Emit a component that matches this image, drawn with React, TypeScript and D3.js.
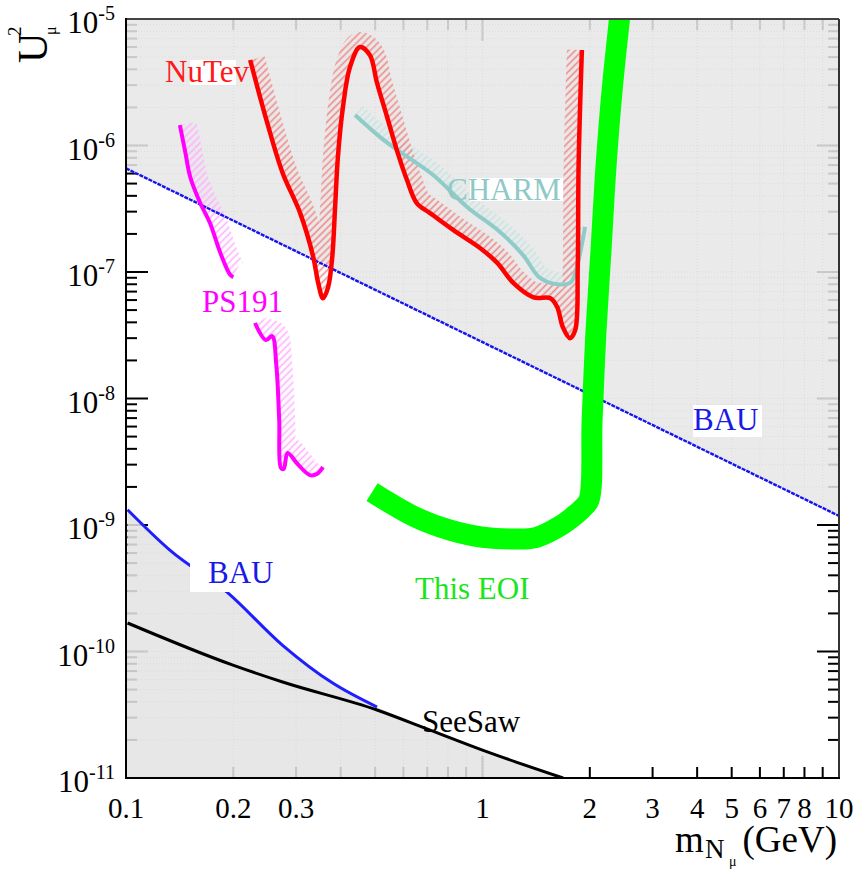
import React, { useEffect } from "react";
import * as d3 from "d3";

// Heavy-neutrino mixing plane: |U_mu|^2 versus m_N (GeV)
const W = 858;
const H = 871;

const xDomain = [0.1, 10];
const yDomain = [1e-11, 1e-5];

const xTickLabels = [0.1, 0.2, 0.3, 1, 2, 3, 4, 5, 6, 7, 8, 10];
const yTickExponents = [-5, -6, -7, -8, -9, -10, -11];

// Baryon asymmetry bounds
const bauUpper: [number, number][] = [
  [0.1, 6.6e-7],
  [10, 1.18e-9],
];
const bauLower: [number, number][] = [
  [0.101, 1.32e-9],
  [0.133, 6.3e-10],
  [0.192, 2.95e-10],
  [0.275, 1.12e-10],
  [0.381, 5.6e-11],
  [0.506, 3.64e-11],
];

// See-saw lower bound
const seesaw: [number, number][] = [
  [0.101, 1.68e-10],
  [0.1995, 7.8e-11],
  [0.275, 5.74e-11],
  [0.506, 3.45e-11],
  [0.713, 2.39e-11],
  [1.0, 1.66e-11],
  [1.683, 1e-11],
];

// NuTeV exclusion contour
const nutev: [number, number][] = [
  [0.223, 4.74e-6],
  [0.249, 1.51e-6],
  [0.275, 6.07e-7],
  [0.308, 2.92e-7],
  [0.335, 1.32e-7],
  [0.346, 8.2e-8],
  [0.357, 6.2e-8],
  [0.369, 7.6e-8],
  [0.379, 1.32e-7],
  [0.386, 3.27e-7],
  [0.393, 8.1e-7],
  [0.406, 2.01e-6],
  [0.425, 4.18e-6],
  [0.453, 6.0e-6],
  [0.483, 5.19e-6],
  [0.506, 3.12e-6],
  [0.54, 1.68e-6],
  [0.575, 9.2e-7],
  [0.614, 5.33e-7],
  [0.654, 3.51e-7],
  [0.713, 2.92e-7],
  [0.827, 2.15e-7],
  [0.984, 1.55e-7],
  [1.1, 1.18e-7],
  [1.22, 8.2e-8],
  [1.39, 6.3e-8],
  [1.55, 6.2e-8],
  [1.62, 5.28e-8],
  [1.68, 3.67e-8],
  [1.76, 3.0e-8],
  [1.82, 3.47e-8],
  [1.85, 1.1e-7],
  [1.86, 6.8e-7],
  [1.9, 5.69e-6],
];

// CHARM exclusion contour
const charm: [number, number][] = [
  [0.439, 1.74e-6],
  [0.515, 1.17e-6],
  [0.587, 8.9e-7],
  [0.727, 5.85e-7],
  [0.905, 3.27e-7],
  [1.12, 2.07e-7],
  [1.3, 1.36e-7],
  [1.45, 8.97e-8],
  [1.62, 8.0e-8],
  [1.77, 8.3e-8],
  [1.84, 1.1e-7],
  [1.94, 2.27e-7],
];

// PS191 exclusion, two pieces
const ps191Upper: [number, number][] = [
  [0.1416, 1.45e-6],
  [0.1466, 8.9e-7],
  [0.1514, 5.64e-7],
  [0.1615, 3.51e-7],
  [0.172, 2.44e-7],
  [0.184, 1.41e-7],
  [0.196, 9.5e-8],
  [0.2, 9.1e-8],
];
const ps191Lower: [number, number][] = [
  [0.23, 3.95e-8],
  [0.247, 2.9e-8],
  [0.257, 3.12e-8],
  [0.264, 1.84e-8],
  [0.269, 6.76e-9],
  [0.272, 2.83e-9],
  [0.277, 2.77e-9],
  [0.284, 3.71e-9],
  [0.303, 3.03e-9],
  [0.328, 2.48e-9],
  [0.343, 2.53e-9],
  [0.357, 2.87e-9],
];

// Projected sensitivity
const eoi: [number, number][] = [
  [0.49, 1.82e-9],
  [0.654, 1.14e-9],
  [0.811, 9.1e-10],
  [1.0, 8.0e-10],
  [1.25, 7.75e-10],
  [1.42, 8.0e-10],
  [1.65, 9.8e-10],
  [1.82, 1.2e-9],
  [1.91, 1.36e-9],
  [1.99, 1.58e-9],
  [2.03, 6.8e-9],
  [2.08, 3.3e-8],
  [2.15, 1.49e-7],
  [2.22, 6.8e-7],
  [2.31, 2.75e-6],
  [2.43, 1.08e-5],
];

const SERIF = "'Liberation Serif', 'Times New Roman', 'DejaVu Serif', serif";

export default function App() {
  useEffect(() => {
    document.body.style.margin = "0";
  }, []);

  const x = d3.scaleLog().domain(xDomain).range([126, 839]);
  const y = d3.scaleLog().domain(yDomain).range([778, 19]);
  const left = x.range()[0];
  const right = x.range()[1];
  const top = y.range()[1];
  const bottom = y.range()[0];

  const smooth = d3
    .line<[number, number]>()
    .x((d) => x(d[0]))
    .y((d) => y(d[1]))
    .curve(d3.curveCatmullRom.alpha(0.5));
  const mono = d3
    .line<[number, number]>()
    .x((d) => x(d[0]))
    .y((d) => y(d[1]))
    .curve(d3.curveMonotoneX);

  // region "above" a contour, closed through the top of the frame
  const aboveRegion = (pts: [number, number][], pad = 0) => {
    const a = pts[0];
    const b = pts[pts.length - 1];
    const bx = x(b[0]) + pad;
    return smooth(pts) + `L${bx},${y(b[1])}L${bx},-300L${x(a[0])},-300Z`;
  };

  const greyUpper = mono(bauUpper) + `L${right},${top}L${left},${top}Z`;
  const lowerEdge: [number, number][] = [...bauLower, ...seesaw.filter((d) => d[0] > 0.506)];
  const greyLower = mono(lowerEdge) + `L${left},${bottom}Z`;

  const xt = x.ticks();
  const yt = y.ticks();
  const isMajor = (v: number) => Math.abs(Math.log10(v) - Math.round(Math.log10(v))) < 1e-6;

  return (
    <svg width={W} height={H} style={{ display: "block", background: "#fff" }} fontFamily={SERIF}>
      <defs>
        <clipPath id="plotArea">
          <rect x={left} y={top} width={right - left} height={bottom - top} />
        </clipPath>
        <clipPath id="greyArea">
          <path d={greyUpper} />
          <path d={greyLower} />
        </clipPath>
        <clipPath id="clipNutev">
          <path d={aboveRegion(nutev)} />
        </clipPath>
        <clipPath id="clipCharm">
          <path d={aboveRegion(charm)} />
        </clipPath>
        <clipPath id="clipPsA">
          <path d={aboveRegion(ps191Upper, 40)} />
        </clipPath>
        <clipPath id="clipPsB">
          <path d={aboveRegion(ps191Lower, 40)} />
        </clipPath>
        <pattern id="hatchRed" width={5} height={5} patternUnits="userSpaceOnUse" patternTransform="rotate(45)">
          <line x1={2.5} y1={0} x2={2.5} y2={5} stroke="#ee8a8a" strokeWidth={1.6} />
        </pattern>
        <pattern id="hatchPink" width={5} height={5} patternUnits="userSpaceOnUse" patternTransform="rotate(45)">
          <line x1={2.5} y1={0} x2={2.5} y2={5} stroke="#ffb0ff" strokeWidth={1.6} />
        </pattern>
        <pattern id="hatchTeal" width={5} height={5} patternUnits="userSpaceOnUse" patternTransform="rotate(45)">
          <line x1={2.5} y1={0} x2={2.5} y2={5} stroke="#c4e4e2" strokeWidth={1.6} />
        </pattern>
      </defs>

      {/* ticks on all four sides, pointing inward */}
      <g stroke="#000" strokeWidth={2}>
        {xt.map((v, i) => {
          const len = isMajor(v) ? 22 : 11;
          return (
            <g key={"xt" + i}>
              <line x1={x(v)} x2={x(v)} y1={bottom} y2={bottom - len} />
              <line x1={x(v)} x2={x(v)} y1={top} y2={top + len} />
            </g>
          );
        })}
        {yt.map((v, i) => {
          const len = isMajor(v) ? 22 : 11;
          return (
            <g key={"yt" + i}>
              <line x1={left} x2={left + len} y1={y(v)} y2={y(v)} />
              <line x1={right} x2={right - len} y1={y(v)} y2={y(v)} />
            </g>
          );
        })}
      </g>

      {/* excluded / disfavoured regions */}
      <g>
        <path d={greyUpper} fill="#e6e6e6" fillOpacity={0.86} />
        <path d={greyLower} fill="#e3e3e3" fillOpacity={0.86} />
        <g clipPath="url(#greyArea)" stroke="#d6d6d6" strokeWidth={1} strokeDasharray="1 2" opacity={0.7}>
          {xt.map((v, i) => (
            <line key={"gx" + i} x1={x(v)} x2={x(v)} y1={top} y2={bottom} />
          ))}
          {yt.map((v, i) => (
            <line key={"gy" + i} x1={left} x2={right} y1={y(v)} y2={y(v)} />
          ))}
        </g>
      </g>

      <g clipPath="url(#plotArea)">
        {/* hatched sides of the exclusion contours */}
        <g clipPath="url(#clipCharm)">
          <path d={smooth(charm)!} fill="none" stroke="url(#hatchTeal)" strokeWidth={24} />
        </g>
        <g clipPath="url(#clipNutev)">
          <path d={smooth(nutev)!} fill="none" stroke="url(#hatchRed)" strokeWidth={30} />
        </g>
        <g clipPath="url(#clipPsA)">
          <path d={smooth(ps191Upper)!} fill="none" stroke="url(#hatchPink)" strokeWidth={34} />
        </g>
        <g clipPath="url(#clipPsB)">
          <path d={smooth(ps191Lower)!} fill="none" stroke="url(#hatchPink)" strokeWidth={32} />
        </g>

        <path d={mono(bauUpper)!} fill="none" stroke="#1414f0" strokeWidth={2.4} strokeDasharray="4 1" />
        <path d={mono(bauLower)!} fill="none" stroke="#1e1eff" strokeWidth={3} />
        <path d={mono(seesaw)!} fill="none" stroke="#000" strokeWidth={3} />
        <path d={smooth(charm)!} fill="none" stroke="#8fcbc8" strokeWidth={4} />
        <path d={smooth(ps191Upper)!} fill="none" stroke="#ff00ff" strokeWidth={4} />
        <path d={smooth(ps191Lower)!} fill="none" stroke="#ff00ff" strokeWidth={4} />
        <path d={smooth(nutev)!} fill="none" stroke="#ff0000" strokeWidth={4.5} strokeLinejoin="round" />
        <path d={smooth(eoi)!} fill="none" stroke="#00ff00" strokeWidth={21} strokeLinejoin="round" />
      </g>

      {/* curve labels */}
      <g fontSize={31}>
        <rect x={190} y={60} width={46} height={25} fill="#fff" />
        <text x={165} y={82} fill="#ff1a1a">NuTev</text>
        <rect x={470} y={178} width={93} height={23} fill="#fff" />
        <text x={447} y={200} fill="#8fc9c6">CHARM</text>
        <rect x={693} y={405} width={69} height={32} fill="#fff" />
        <text x={693} y={430} fill="#1a1ae6">BAU</text>
        <rect x={190} y={552} width={88} height={40} fill="#fff" />
        <text x={208} y={583} fill="#1a1ae6">BAU</text>
        <text x={202} y={312} fill="#ff00ff">PS191</text>
        <text x={415} y={599} fill="#19e619">This EOI</text>
        <text x={422} y={732} fill="#000">SeeSaw</text>
      </g>

      {/* frame */}
      <line x1={left} x2={right} y1={top} y2={top} stroke="#444" strokeWidth={2} />
      <line x1={right} x2={right} y1={top} y2={bottom} stroke="#333" strokeWidth={2} />
      <line x1={left} x2={left} y1={top - 1} y2={bottom + 1} stroke="#000" strokeWidth={2} />
      <line x1={left - 1} x2={right + 1} y1={bottom} y2={bottom} stroke="#000" strokeWidth={2} />

      {/* tick labels */}
      <g fill="#000">
        {xTickLabels.map((v) => (
          <text key={"xl" + v} x={x(v)} y={818} textAnchor="middle" fontSize={29}>
            {String(v)}
          </text>
        ))}
        {yTickExponents.map((e) => (
          <text key={"yl" + e} x={115} y={y(Math.pow(10, e)) + 14} textAnchor="end" fontSize={31}>
            10
            <tspan fontSize={20} dy={-13}>
              {String(e)}
            </tspan>
          </text>
        ))}
      </g>

      {/* axis titles */}
      <g fill="#000">
        <text x={675} y={852} fontSize={37}>m</text>
        <text x={705} y={858} fontSize={27}>N</text>
        <text x={729} y={866} fontSize={14}>μ</text>
        <text x={837} y={852} fontSize={37} textAnchor="end">(GeV)</text>
      </g>
      <g transform="translate(47,63) rotate(-90)" fill="#000">
        <text x={0} y={0} fontSize={42}>U</text>
        <text x={27} y={-26} fontSize={19}>2</text>
        <text x={28} y={9} fontSize={16}>μ</text>
      </g>
    </svg>
  );
}
